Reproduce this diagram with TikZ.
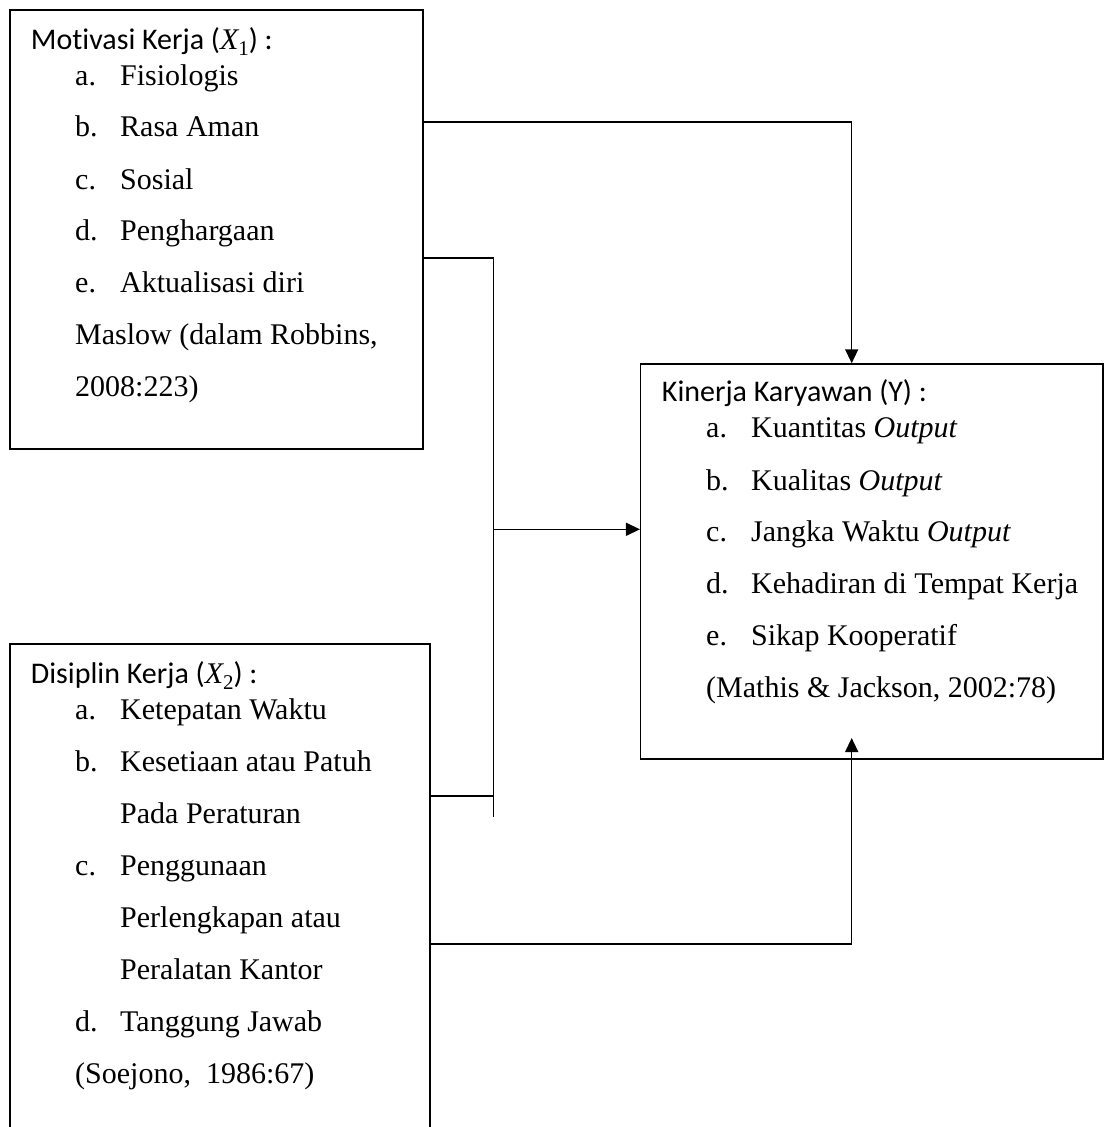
\documentclass[tikz,border=0pt]{standalone}
\usepackage{fontspec}
\setmainfont{Liberation Serif}
\newfontfamily\calib[Ligatures=NoCommon]{Carlito}
\usetikzlibrary{arrows.meta}
\newcommand{\sbx}[1]{\raisebox{-0.22em}{\fontsize{21}{21}\selectfont\rmfamily #1}}
\newcommand{\vx}{{\rmfamily\itshape X}}
\begin{document}
\begin{tikzpicture}[x=1pt,y=-1pt,
  boxst/.style={draw,line width=1.5pt,inner sep=0pt,rectangle},
  txt/.style={anchor=base west,inner sep=0pt,font=\fontsize{30}{36}\selectfont},
  hd/.style={anchor=base west,inner sep=0pt,font=\calib\fontsize{30}{36}\selectfont},
  conn/.style={line width=1.5pt},
  arr/.style={conn,-{Triangle[length=14pt,width=13pt]}}]
\useasboundingbox (0,0) rectangle (1105,1127);
\clip (0,0) rectangle (1105,1127);
\fill[white] (0,0) rectangle (1105,1127);
% boxes
\node[boxst,minimum width=413pt,minimum height=439pt] (mot) at (216.5,229.5) {};
\node[boxst,minimum width=420pt,minimum height=496pt] (dis) at (220,892) {};
\node[boxst,minimum width=462.3pt,minimum height=395pt] (kin) at (871.85,561.5) {};
% box 1 texts
\node[hd] (m0) at (30.7,49.3) {Mot\kern0pt ivasi Kerja (\vx\sbx{1}) :};
\node[txt] (m1l) at (75,85) {a.};      \node[txt] (m1) at (120,85) {Fisiologis};
\node[txt] (m2l) at (75,136.7) {b.};   \node[txt] (m2) at (120,136.7) {Rasa Aman};
\node[txt] (m3l) at (75,189) {c.};     \node[txt] (m3) at (120,189) {Sosial};
\node[txt] (m4l) at (75,240.7) {d.};   \node[txt] (m4) at (120,240.7) {Penghargaan};
\node[txt] (m5l) at (75,292.7) {e.};   \node[txt] (m5) at (120,292.7) {Aktualisasi diri};
\node[txt] (m6) at (75,344) {Maslow (dalam Robbins,};
\node[txt] (m7) at (75,396.7) {2008:223)};
% box 2 texts
\node[hd] (d0) at (30.7,683) {Disiplin Kerja (\vx\sbx{2}) :};
\node[txt] (d1l) at (75,719) {a.};     \node[txt] (d1) at (120,719) {Ketepatan Waktu};
\node[txt] (d2l) at (75,771.5) {b.};   \node[txt] (d2) at (120,771.5) {Kesetiaan atau Patuh};
\node[txt] (d2b) at (120,823) {Pada Peraturan};
\node[txt] (d3l) at (75,875) {c.};     \node[txt] (d3) at (120,875) {Penggunaan};
\node[txt] (d3b) at (120,927) {Perlengkapan atau};
\node[txt] (d3c) at (120,979.5) {Peralatan Kantor};
\node[txt] (d4l) at (75,1031) {d.};    \node[txt] (d4) at (120,1031) {Tanggung Jawab};
\node[txt] (d5) at (75,1083.5) {(Soejono,\ \ 1986:67)};
% box 3 texts
\node[hd] (k0) at (661.7,401.7) {Kinerja Karyawan (Y) :};
\node[txt] (k1l) at (706,437.7) {a.};  \node[txt] (k1) at (751,437.7) {Kuantitas \textit{Output}};
\node[txt] (k2l) at (706,490) {b.};    \node[txt] (k2) at (751,490) {Kualitas \textit{Output}};
\node[txt] (k3l) at (706,541.7) {c.};  \node[txt] (k3) at (751,541.7) {Jangka Waktu \textit{Output}};
\node[txt] (k4l) at (706,593.3) {d.};  \node[txt] (k4) at (751,593.3) {Kehadiran di Tempat Kerja};
\node[txt] (k5l) at (706,645) {e.};    \node[txt] (k5) at (751,645) {Sikap Kooperatif};
\node[txt] (k6) at (706,697.3) {(Mathis \& Jackson, 2002:78)};
% connectors
\coordinate (t1) at (851.7,122);
\draw[arr] (mot.east |- t1) -- (t1) -- (kin.north -| t1);
\coordinate (j1) at (493.7,258);
\coordinate (jb) at (493.7,817);
\draw[conn] (mot.east |- j1) -- (j1) -- (jb);
\coordinate (ja) at (493.7,529.3);
\draw[arr] (ja) -- (kin.west |- ja);
\coordinate (j2) at (493.7,796);
\draw[conn] (dis.east |- j2) -- (j2);
\coordinate (b1) at (851.7,944);
\coordinate (b2) at (851.7,738);
\draw[arr] (dis.east |- b1) -- (b1) -- (b2);
\end{tikzpicture}
\end{document}
